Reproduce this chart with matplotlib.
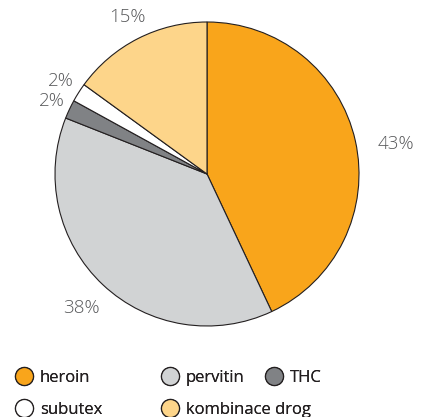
import matplotlib
matplotlib.use("Agg")
import matplotlib.pyplot as plt
import numpy as np
from matplotlib.lines import Line2D

categories = ["heroin", "pervitin", "THC", "subutex", "kombinace drog"]
values = [43, 38, 2, 2, 15]
colors = ["#F9A51B", "#D1D3D4", "#808285", "#FFFFFF", "#FDD58A"]
label_dist = [1.26, 1.21, 1.13, 1.14, 1.16]
label_angle_shift = [-3.5, 0, 0, 0, 0]   # degrees (clockwise positive)

plt.rcParams['font.family'] = ['Open Sans', 'DejaVu Sans']

fig = plt.figure(figsize=(4.22, 4.17), dpi=100)
ax = fig.add_axes([55/422, (417-174-152)/417, 304/422, 304/417])

wedges, _ = ax.pie(values, colors=colors, startangle=90, counterclock=False,
                   wedgeprops=dict(edgecolor="#231F20", linewidth=0.8))
ax.set_xlim(-1, 1)
ax.set_ylim(-1, 1)
ax.set_aspect('equal')
ax.axis('off')

for w, v, d, s in zip(wedges, values, label_dist, label_angle_shift):
    ang = np.deg2rad((w.theta1 + w.theta2) / 2 + s)
    ax.text(d*np.cos(ang), d*np.sin(ang), f"{v}%", ha='center', va='center',
            fontsize=13.5, fontweight='light', color="#58595B", clip_on=False)

# legend entries, one per item
leg_pos = [(14/422, 1-378/417), (160/422, 1-378/417), (264/422, 1-378/417),
           (14/422, 1-410/417), (160/422, 1-410/417)]
for cat, col, pos in zip(categories, colors, leg_pos):
    h = Line2D([], [], marker='o', linestyle='none', markersize=13,
               markerfacecolor=col, markeredgecolor="#231F20", markeredgewidth=0.9)
    lg = fig.legend([h], [cat], loc='center left', bbox_to_anchor=pos,
                    frameon=False, handletextpad=0.36,
                    borderpad=0, borderaxespad=0, handlelength=1.2,
                    labelcolor="#231F20", prop=dict(weight='normal', size=12))
    fig.add_artist(lg)

fig.savefig("out.png", dpi=100)
